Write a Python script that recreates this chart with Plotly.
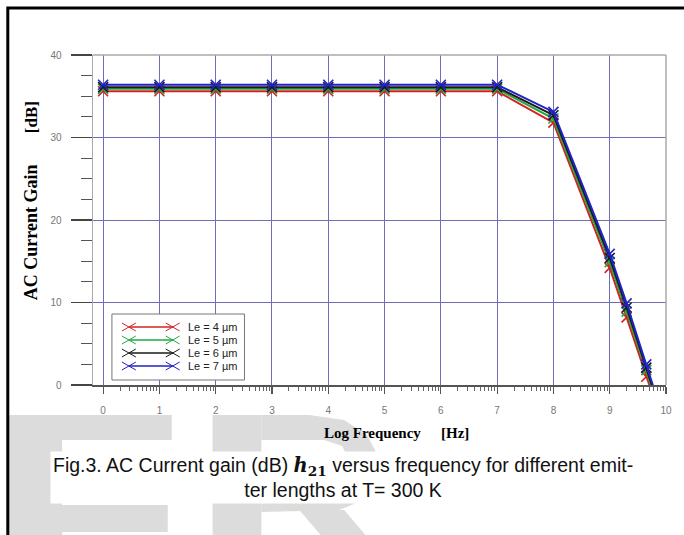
import plotly.graph_objects as go
import math

# ---------------- data ----------------
log_freq = [0, 1, 2, 3, 4, 5, 6, 7, 8, 9, 9.3, 9.65, 10]
gain_le4 = [35.6, 35.6, 35.6, 35.6, 35.6, 35.6, 35.6, 35.6, 31.8, 14.2, 8.2, 1.0, -6.0]
gain_le5 = [35.9, 35.9, 35.9, 35.9, 35.9, 35.9, 35.9, 35.9, 32.3, 14.9, 8.9, 1.8, -5.5]
gain_le6 = [36.1, 36.1, 36.1, 36.1, 36.1, 36.1, 36.1, 36.1, 32.7, 15.4, 9.4, 2.1, -5.3]
gain_le7 = [36.4, 36.4, 36.4, 36.4, 36.4, 36.4, 36.4, 36.4, 33.1, 15.9, 9.9, 2.5, -5.0]
series_names = ["Le = 4 µm", "Le = 5 µm", "Le = 6 µm", "Le = 7 µm"]
series_colors = ["#d42222", "#22a844", "#1a1a1a", "#2222c8"]
x_ticks = [0, 1, 2, 3, 4, 5, 6, 7, 8, 9, 10]
y_ticks = [0, 10, 20, 30, 40]

# ---------------- layout geometry ----------------
W_FIG, H_FIG = 684, 535
L, R, T, B = 93, 668, 55, 385
PW, PH = R - L, B - T


def px(x):
    return (x - L) / PW


def py(y):
    return (B - y) / PH


fig = go.Figure()
for vals, name, col in zip([gain_le4, gain_le5, gain_le6, gain_le7], series_names, series_colors):
    fig.add_trace(go.Scatter(
        x=log_freq, y=vals, name=name, mode="lines+markers",
        line=dict(color=col, width=2),
        marker=dict(symbol="x-thin", size=10, line=dict(width=1.6, color=col)),
        showlegend=False,
    ))

minor_log = [i + math.log10(k) for i in range(10) for k in range(2, 10)]

GRID = "#6e6eb8"
TICKFONT = dict(family="Liberation Sans Narrow, Arial Narrow, Liberation Sans", size=10, color="#777")
fig.update_xaxes(
    range=[-0.18, 10], tickvals=x_ticks, ticktext=[str(v) for v in x_ticks],
    showgrid=True, gridcolor=GRID, gridwidth=1,
    showline=True, linecolor="#555", linewidth=1.5, mirror=False,
    ticks="outside", ticklen=7, tickwidth=1.2, tickcolor="#555",
    ticklabelstandoff=8, tickfont=TICKFONT,
    minor=dict(tickmode="array", tickvals=minor_log, ticks="outside", ticklen=4,
               tickwidth=1, tickcolor="#666", showgrid=False),
    zeroline=False,
)
fig.update_yaxes(
    range=[0, 40], tickvals=y_ticks,
    showgrid=True, gridcolor=GRID, gridwidth=1,
    showline=True, linecolor="#aaa", linewidth=1.5,
    ticks="outside", ticklen=21, tickwidth=1.5, tickcolor="#444",
    ticklabelstandoff=7, tickfont=TICKFONT,
    minor=dict(dtick=2.5, ticks="outside", ticklen=11, tickwidth=1, tickcolor="#555", showgrid=False),
    zeroline=False,
)

shapes = []
# top / right border of plot
shapes.append(dict(type="line", xref="paper", yref="paper", x0=0, x1=1, y0=1, y1=1,
                   line=dict(color="#aaa", width=1.5)))
shapes.append(dict(type="line", xref="paper", yref="paper", x0=1, x1=1, y0=0, y1=1,
                   line=dict(color="#aaa", width=1.5)))

# watermark "ER" (light grey), below everything
WM = "#dcdcdc"


def rect(x0, y0, x1, y1):
    return dict(type="rect", xref="paper", yref="paper", x0=px(x0), x1=px(x1), y0=py(y0), y1=py(y1),
                fillcolor=WM, line=dict(width=0), layer="below")


shapes.append(rect(8, 415, 62, 545))       # E stem
shapes.append(rect(8, 415, 172, 440))      # E top bar
shapes.append(rect(8, 505, 168, 532))      # E middle bar
shapes.append(rect(213, 415, 262, 545))    # R stem


def ppath(points):
    return "M " + " L ".join(f"{px(a):.4f},{py(b):.4f}" for a, b in points) + " Z"


outer = [(262, 415), (310, 415), (345, 420), (368, 435), (380, 458), (378, 482), (365, 500),
         (340, 510), (262, 512)]
inner = [(262, 490), (325, 488), (345, 478), (350, 460), (343, 446), (325, 440), (262, 440)]
shapes.append(dict(type="path", xref="paper", yref="paper", path=ppath(outer + inner),
                   fillcolor=WM, line=dict(width=0), layer="below"))
shapes.append(dict(type="path", xref="paper", yref="paper",
                   path=ppath([(300, 510), (345, 510), (375, 545), (330, 545)]),
                   fillcolor=WM, line=dict(width=0), layer="below"))

# outer black frame
shapes.append(dict(type="rect", xref="paper", yref="paper", x0=px(7.5), y0=py(8), x1=px(720), y1=py(600),
                   line=dict(color="black", width=3), fillcolor="rgba(0,0,0,0)"))

# legend box
LX0, LY0, LX1, LY1 = 112, 314, 245, 380
shapes.append(dict(type="rect", xref="paper", yref="paper", x0=px(LX0), y0=py(LY0), x1=px(LX1), y1=py(LY1),
                   line=dict(color="#777", width=1), fillcolor="white"))
annotations = []
for i, (name, col) in enumerate(zip(series_names, series_colors)):
    yy = 327 + i * 13
    shapes.append(dict(type="line", xref="paper", yref="paper", x0=px(129), x1=px(173), y0=py(yy), y1=py(yy),
                       line=dict(color=col, width=1.6)))
    for cx in (129, 173):
        for d in (1, -1):
            shapes.append(dict(type="line", xref="paper", yref="paper",
                               x0=px(cx - 7), x1=px(cx + 7), y0=py(yy - 4 * d), y1=py(yy + 4 * d),
                               line=dict(color=col, width=1)))
    annotations.append(dict(xref="paper", yref="paper", x=px(186), y=py(yy), text=name, showarrow=False,
                            xanchor="left", yanchor="middle",
                            font=dict(family="Liberation Sans Narrow, Arial Narrow, Liberation Sans",
                                      size=11, color="#222")))

TITLEFONT = "Liberation Serif, Times New Roman"
# axis titles
annotations.append(dict(xref="paper", yref="paper", x=px(373), y=py(433),
                        text="<b>Log Frequency</b>", showarrow=False, xanchor="center", yanchor="middle",
                        font=dict(family=TITLEFONT, size=15, color="black")))
annotations.append(dict(xref="paper", yref="paper", x=px(456), y=py(433),
                        text="<b>[Hz]</b>", showarrow=False, xanchor="center", yanchor="middle",
                        font=dict(family=TITLEFONT, size=15, color="black")))
annotations.append(dict(xref="paper", yref="paper", x=px(31), y=py(232), textangle=-90,
                        text="<b>AC Current Gain</b>", showarrow=False, xanchor="center", yanchor="middle",
                        font=dict(family=TITLEFONT, size=18, color="black")))
annotations.append(dict(xref="paper", yref="paper", x=px(31), y=py(117), textangle=-90,
                        text="<b>[dB]</b>", showarrow=False, xanchor="center", yanchor="middle",
                        font=dict(family=TITLEFONT, size=17, color="black")))

# caption
annotations.append(dict(
    xref="paper", yref="paper", x=px(344), y=py(477), showarrow=False,
    xanchor="center", yanchor="middle", align="center",
    text=("Fig.3. AC Current gain (dB) <span style='font-family:DejaVu Serif'><b><i>h</i><sub>21</sub></b></span>"
          " versus frequency for different emit-<br>ter lengths at T= 300 K"),
    font=dict(family="Liberation Sans, Arial", size=19.5, color="#111"),
    bgcolor="white", borderpad=2,
))

fig.update_layout(
    width=W_FIG, height=H_FIG,
    margin=dict(l=L, r=W_FIG - R, t=T, b=H_FIG - B),
    paper_bgcolor="white", plot_bgcolor="white",
    shapes=shapes, annotations=annotations,
    showlegend=False,
)

fig.write_html("out.html", config={"displayModeBar": False, "staticPlot": True},
               post_script="document.body.style.margin='0px';document.body.style.overflow='hidden';")
